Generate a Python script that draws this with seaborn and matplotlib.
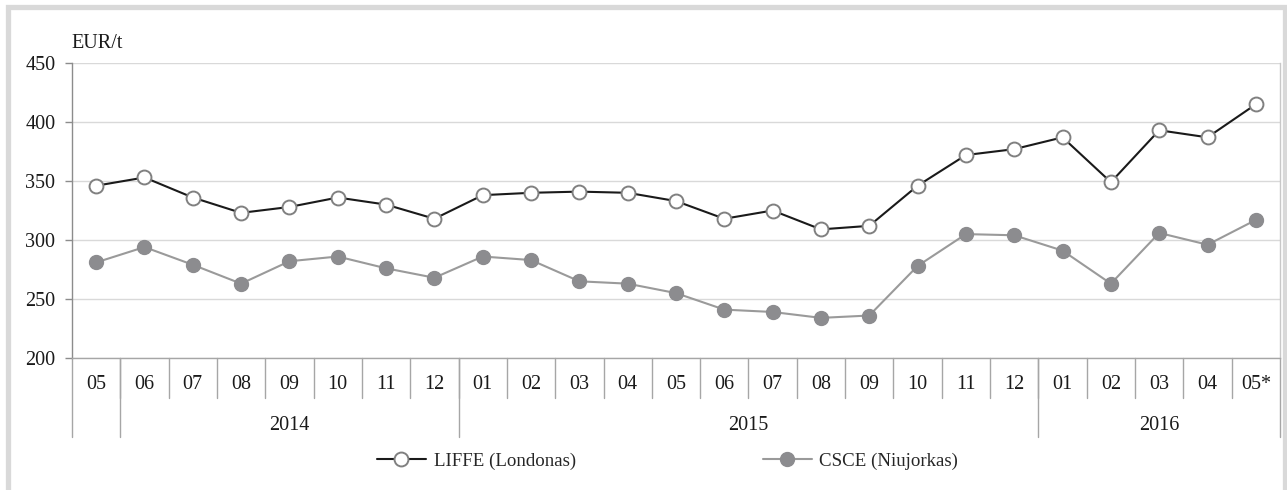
import matplotlib
matplotlib.use("Agg")
import matplotlib.pyplot as plt
import matplotlib.transforms as mtransforms
from matplotlib.patches import Rectangle
import seaborn as sns
import pandas as pd

# --- data ---
months = ["05", "06", "07", "08", "09", "10", "11", "12",
          "01", "02", "03", "04", "05", "06", "07", "08", "09", "10", "11", "12",
          "01", "02", "03", "04", "05*"]
years = ["2014", "2015", "2016"]
liffe = [346, 353, 336, 323, 328, 336, 330, 318,
         338, 340, 341, 340, 333, 318, 325, 309, 312, 346, 372, 377,
         387, 349, 393, 387, 415]
csce = [281, 294, 279, 263, 282, 286, 276, 268,
        286, 283, 265, 263, 255, 241, 239, 234, 236, 278, 305, 304,
        291, 263, 306, 296, 317]

df = pd.DataFrame({"idx": range(len(months)), "liffe": liffe, "csce": csce})

sns.set_theme(style="white")
plt.rcParams["font.family"] = ["Liberation Serif", "DejaVu Serif"]
FS = 14.5

W, H = 1287, 490
fig = plt.figure(figsize=(W / 100, H / 100), dpi=100)
ax = fig.add_axes([72 / W, 1 - 358 / H, (1280 - 72) / W, (358 - 63) / H])

# outer light frame
fig.patches.append(Rectangle((7.5 / W, -0.05), (1284.5 - 7.5) / W, 1.05 - 7.5 / H,
                             transform=fig.transFigure, fill=False,
                             edgecolor="#d9d9d9", linewidth=3.8, zorder=0))

sns.lineplot(data=df, x="idx", y="liffe", ax=ax, color="#1a1a1a", linewidth=1.5,
             marker="o", markersize=10, markerfacecolor="white",
             markeredgecolor="#808080", markeredgewidth=1.4,
             label="LIFFE (Londonas)", zorder=4)
sns.lineplot(data=df, x="idx", y="csce", ax=ax, color="#9a9a9a", linewidth=1.5,
             marker="o", markersize=10, markerfacecolor="#8c8c8f",
             markeredgecolor="#8c8c8f", markeredgewidth=1.0,
             label="CSCE (Niujorkas)", zorder=3)

n = len(months)
ax.set_xlim(-0.5, n - 0.5)
ax.set_ylim(200, 450)
ax.set_yticks(range(200, 451, 50))
ax.yaxis.grid(True, color="#d9d9d9", linewidth=1.0)
ax.set_axisbelow(True)

ax.set_xticks(range(n))
ax.set_xticklabels(months)
ax.tick_params(axis="x", length=0, pad=12.5, labelsize=FS, colors="#1a1a1a")
ax.tick_params(axis="y", left=True, length=5, width=1, color="#8c8c8c",
               pad=7, labelsize=FS, labelcolor="#1a1a1a")
ax.set_xlabel("")
ax.set_ylabel("")

ax.spines["top"].set_visible(False)
ax.spines["left"].set_color("#8c8c8c")
ax.spines["bottom"].set_color("#a6a6a6")
ax.spines["right"].set_color("#c8c8c8")
for s in ax.spines.values():
    s.set_linewidth(1.0)

# category table below the axis
trans = mtransforms.blended_transform_factory(ax.transData, ax.transAxes)
month_depth = -40 / 295
year_depth = -79 / 295
year_bounds = [-0.5, 0.5, 7.5, 19.5, n - 0.5]
for i in range(n - 1):
    ax.plot([i + 0.5, i + 0.5], [0, month_depth], transform=trans,
            color="#a6a6a6", linewidth=1.0, clip_on=False)
for b in year_bounds:
    ax.plot([b, b], [0, year_depth], transform=trans,
            color="#a6a6a6", linewidth=1.0, clip_on=False)
year_centers = [(year_bounds[1] + year_bounds[2]) / 2,
                (year_bounds[2] + year_bounds[3]) / 2,
                (year_bounds[3] + year_bounds[4]) / 2]
for yr, c in zip(years, year_centers):
    ax.text(c, -67 / 295, yr, transform=trans, ha="center", va="center",
            fontsize=FS, color="#1a1a1a")

fig.text(71 / W, 1 - 44 / H, "EUR/t", ha="left", va="center",
         fontsize=FS, color="#1a1a1a")

ax.legend(loc="center", bbox_to_anchor=(0.493, -103 / 295), ncol=2,
          frameon=False, fontsize=13.6, handlelength=2.6, handletextpad=0.4,
          columnspacing=9.9)

fig.savefig("out.png", dpi=100)
